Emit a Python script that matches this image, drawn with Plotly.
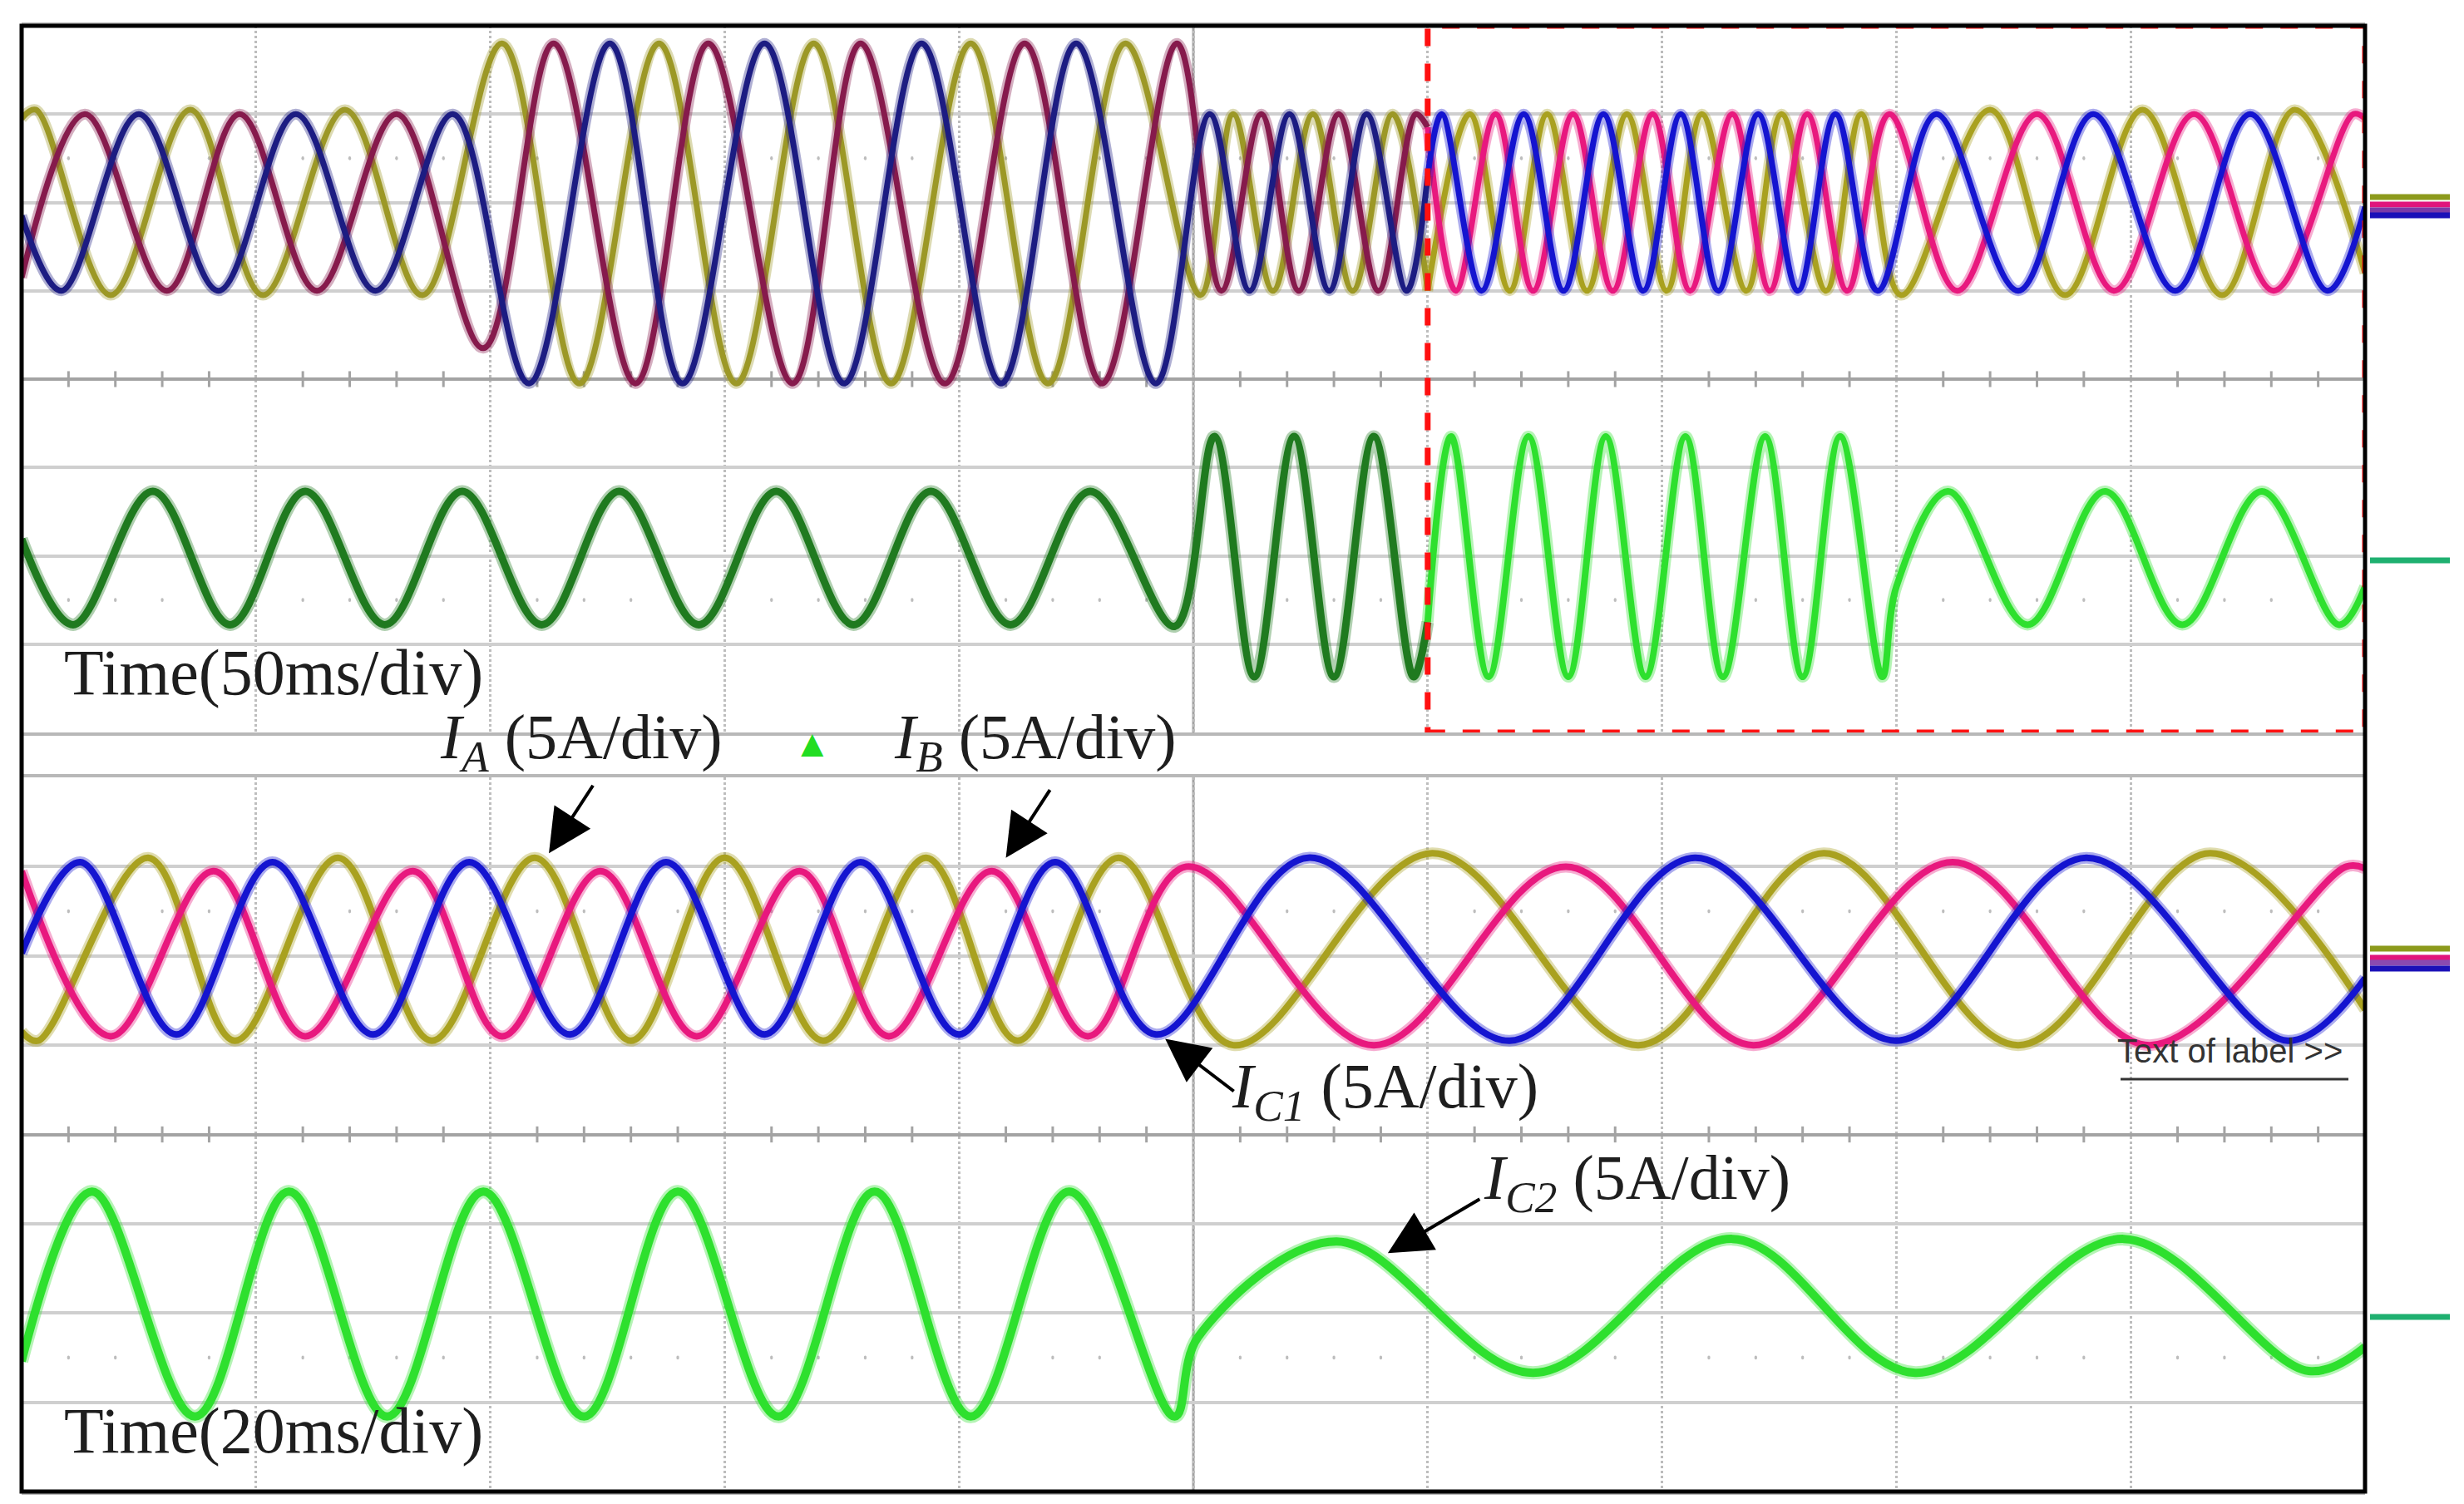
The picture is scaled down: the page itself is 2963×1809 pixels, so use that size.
import plotly.graph_objects as go

# ---- upper record, Time 50 ms/div (x and y in divisions) ----
UP_OLIVE_T = [0.0, 0.06, 0.38, 0.72, 1.03, 1.38, 1.71, 2.05, 2.38, 2.72, 3.05, 3.38, 3.71, 4.05,
              4.38, 4.71, 5.03, 5.17, 5.34, 5.51, 5.68, 5.85, 6.0, 6.18, 6.35, 6.51, 6.68, 6.85,
              7.02, 7.17, 7.36, 7.51, 7.70, 7.85, 8.02, 8.40, 8.72, 9.05, 9.39, 9.70, 10.0]
UP_OLIVE_V = [2.95, 3.05, 0.95, 3.05, 0.95, 3.05, 0.95, 3.8, -0.05, 3.8, -0.05, 3.8, -0.05, 3.8,
              -0.05, 3.8, 0.95, 3.0, 1.0, 3.0, 1.0, 3.0, 1.0, 3.0, 1.0, 3.0, 1.0, 3.0,
              1.0, 3.0, 1.0, 3.0, 1.0, 3.0, 0.95, 3.05, 0.95, 3.05, 0.95, 3.05, 1.2]

UP_MAROON_T = [0.0, 0.27, 0.62, 0.93, 1.26, 1.60, 1.97, 2.27, 2.62, 2.93, 3.29, 3.58, 3.94, 4.28,
               4.61, 4.93, 5.12, 5.29, 5.45, 5.62, 5.79, 5.95, 6.0, 6.12, 6.29, 6.45, 6.62, 6.79,
               6.96, 7.12, 7.30, 7.46, 7.62, 7.79, 7.97, 8.26, 8.60, 8.93, 9.27, 9.61, 9.95, 10.0]
UP_MAROON_V = [1.15, 3.0, 1.0, 3.0, 1.0, 3.0, 0.35, 3.8, -0.05, 3.8, -0.05, 3.8, -0.05, 3.8,
               -0.05, 3.8, 1.0, 3.0, 1.0, 3.0, 1.0, 3.0, 2.85, 1.0, 3.0, 1.0, 3.0, 1.0,
               3.0, 1.0, 3.0, 1.0, 3.0, 1.0, 3.0, 1.0, 3.0, 1.0, 3.0, 1.0, 3.0, 2.95]

UP_NAVY_T = [0.0, 0.17, 0.50, 0.84, 1.17, 1.51, 1.84, 2.165, 2.51, 2.82, 3.17, 3.51, 3.84, 4.18,
             4.50, 4.84, 5.07, 5.24, 5.41, 5.58, 5.74, 5.91, 6.0, 6.06, 6.23, 6.41, 6.58, 6.75,
             6.92, 7.08, 7.24, 7.41, 7.58, 7.74, 7.92, 8.17, 8.52, 8.84, 9.19, 9.51, 9.84, 10.0]
UP_NAVY_V = [1.85, 1.0, 3.0, 1.0, 3.0, 1.0, 3.0, -0.05, 3.8, -0.05, 3.8, -0.05, 3.8, -0.05,
             3.8, -0.05, 3.0, 1.0, 3.0, 1.0, 3.0, 1.0, 2.3, 3.0, 1.0, 3.0, 1.0, 3.0,
             1.0, 3.0, 1.0, 3.0, 1.0, 3.0, 1.0, 3.0, 1.0, 3.0, 1.0, 3.0, 1.0, 1.95]

UP_GREEN_T = [0.0, 0.22, 0.56, 0.89, 1.21, 1.55, 1.88, 2.22, 2.55, 2.89, 3.22, 3.55, 3.88, 4.22,
              4.56, 4.92, 5.09, 5.26, 5.43, 5.60, 5.77, 5.94, 6.0, 6.10, 6.26, 6.43, 6.60, 6.76,
              6.93, 7.10, 7.26, 7.44, 7.60, 7.76, 7.94, 8.0, 8.22, 8.56, 8.89, 9.22, 9.56, 9.89, 10.0]
UP_GREEN_V = [-1.81, -2.78, -1.27, -2.78, -1.27, -2.78, -1.27, -2.78, -1.27, -2.78, -1.27, -2.78,
              -1.27, -2.78, -1.27, -2.8, -0.65, -3.37, -0.65, -3.37, -0.65, -3.37, -2.75, -0.65,
              -3.37, -0.65, -3.37, -0.65, -3.37, -0.65, -3.37, -0.65, -3.37, -0.65, -3.37, -2.35,
              -1.27, -2.78, -1.27, -2.78, -1.27, -2.78, -2.35]

# ---- lower record, Time 20 ms/div ----
LO_BLUE_T = [0.0, 0.25, 0.66, 1.07, 1.50, 1.91, 2.34, 2.75, 3.17, 3.58, 4.00, 4.41, 4.84, 5.49,
             6.35, 7.14, 8.00, 8.81, 9.67, 10.0]
LO_BLUE_V = [2.03, 3.05, 1.12, 3.05, 1.12, 3.05, 1.12, 3.05, 1.12, 3.05, 1.12, 3.05, 1.12, 3.1,
             1.05, 3.1, 1.05, 3.1, 1.05, 1.75]

LO_PINK_T = [0.0, 0.38, 0.82, 1.21, 1.67, 2.05, 2.47, 2.88, 3.32, 3.70, 4.14, 4.55, 4.97, 5.77,
             6.59, 7.39, 8.24, 9.08, 9.92, 10.0]
LO_PINK_V = [2.95, 1.1, 2.95, 1.1, 2.95, 1.1, 2.95, 1.1, 2.95, 1.1, 2.95, 1.1, 3.0, 1.0,
             3.0, 1.0, 3.05, 1.0, 3.0, 2.98]

LO_OLIVE_T = [0.0, 0.07, 0.54, 0.91, 1.35, 1.75, 2.19, 2.60, 3.00, 3.42, 3.86, 4.25, 4.68, 5.17,
              6.02, 6.90, 7.69, 8.52, 9.34, 10.0]
LO_OLIVE_V = [1.15, 1.05, 3.1, 1.05, 3.1, 1.05, 3.1, 1.05, 3.1, 1.05, 3.1, 1.05, 3.1, 1.0,
              3.15, 1.0, 3.15, 1.0, 3.15, 1.4]

LO_GREEN_T = [0.0, 0.30, 0.74, 1.14, 1.56, 1.97, 2.40, 2.80, 3.23, 3.64, 4.05, 4.47, 4.92, 5.02,
              5.61, 6.45, 7.30, 8.08, 8.97, 9.76, 10.0]
LO_GREEN_V = [-2.54, -0.64, -3.16, -0.64, -3.16, -0.64, -3.16, -0.64, -3.16, -0.64, -3.16, -0.64,
              -3.16, -2.27, -1.2, -2.67, -1.17, -2.67, -1.17, -2.65, -2.38]

ZOOM_START = 6.0  # red dashed window starts here (upper record)

# colours
OLIVE_DARK = "#9c9826"
MAROON = "#861a4c"
NAVY = "#1c1c82"
GREEN_DARK = "#1f7a1f"
OLIVE = "#a9a11f"
PINK = "#e8187e"
BLUE = "#1414d0"
GREEN = "#2ee02e"
GRID_H = "#cfcfcf"
GRID_V = "#bdbdbd"
AXIS_C = "#a3a3a3"

W, H = 2963, 1809
M_L, M_R, M_T, M_B = 18, 127, 23, 23
PLOT_W = W - M_L - M_R
PLOT_H = H - M_T - M_B


def py(px_y):
    """pixel row -> paper y"""
    return (H - M_B - px_y) / PLOT_H


def px(px_x):
    return (px_x - M_L) / PLOT_W


UP_DOMAIN = [py(873), 1.0]
LO_DOMAIN = [0.0, py(927)]

fig = go.Figure()


def add_wave(t, v, color, xa, ya, width=8):
    # soft halo under the trace to mimic the noisy scope band
    fig.add_trace(go.Scatter(
        x=t, y=v, mode="lines", xaxis=xa, yaxis=ya, opacity=0.35,
        line=dict(color=color, width=width + 6, shape="spline", smoothing=1.0),
        hoverinfo="skip", showlegend=False,
    ))
    fig.add_trace(go.Scatter(
        x=t, y=v, mode="lines", xaxis=xa, yaxis=ya,
        line=dict(color=color, width=width, shape="spline", smoothing=1.0),
        hoverinfo="skip", showlegend=False,
    ))


def split(t, v, t0):
    i = t.index(t0)
    return (t[:i + 1], v[:i + 1]), (t[i:], v[i:])


# upper record: darker colours before the dashed window, brighter inside it
for t, v, c1, c2 in [
    (UP_OLIVE_T, UP_OLIVE_V, OLIVE_DARK, OLIVE),
    (UP_MAROON_T, UP_MAROON_V, MAROON, PINK),
    (UP_NAVY_T, UP_NAVY_V, NAVY, BLUE),
]:
    a, b = split(t, v, ZOOM_START)
    add_wave(a[0], a[1], c1, "x", "y", width=7)
    add_wave(b[0], b[1], c2, "x", "y", width=7)

a, b = split(UP_GREEN_T, UP_GREEN_V, ZOOM_START)
add_wave(a[0], a[1], GREEN_DARK, "x", "y", width=9)
add_wave(b[0], b[1], GREEN, "x", "y", width=8)

# lower record
add_wave(LO_OLIVE_T, LO_OLIVE_V, OLIVE, "x2", "y2")
add_wave(LO_PINK_T, LO_PINK_V, PINK, "x2", "y2")
add_wave(LO_BLUE_T, LO_BLUE_V, BLUE, "x2", "y2")
add_wave(LO_GREEN_T, LO_GREEN_V, GREEN, "x2", "y2", width=10)

xaxis_style = dict(
    range=[0, 10], dtick=1, tick0=0, showgrid=True, gridcolor=GRID_V, gridwidth=3,
    griddash="dot", zeroline=False, showticklabels=False, ticks="",
    showline=True, mirror=True, linecolor="#b8b8b8", linewidth=4, fixedrange=True,
)
yaxis_style = dict(
    range=[-4, 4], dtick=1, tick0=0, showgrid=True, gridcolor=GRID_H, gridwidth=4,
    zeroline=True, zerolinecolor=AXIS_C, zerolinewidth=4, showticklabels=False, ticks="",
    showline=False, fixedrange=True,
)

shapes = []
for xa, ya in [("x", "y"), ("x2", "y2")]:
    # centre vertical line
    shapes.append(dict(type="line", xref=xa, yref=ya, x0=5, x1=5, y0=-4, y1=4,
                       line=dict(color=AXIS_C, width=3), layer="below"))
    for k in range(1, 50):
        if k % 5 == 0:
            continue
        xk = k * 0.2
        # minor ticks on the centre horizontal axis
        shapes.append(dict(type="line", xref=xa, yref=ya, x0=xk, x1=xk, y0=-0.09, y1=0.09,
                           line=dict(color=AXIS_C, width=3), layer="below"))
        # dotted rows at +/-2.5 div
        for yk in (2.5, -2.5):
            shapes.append(dict(type="circle", xref=xa, yref=ya,
                               x0=xk - 0.006, x1=xk + 0.006, y0=yk - 0.022, y1=yk + 0.022,
                               fillcolor="#bdbdbd", line=dict(width=0), layer="below"))

# red dashed zoom window on the upper record
shapes.append(dict(type="rect", xref="x", yref="y", x0=ZOOM_START, x1=10, y0=-4, y1=4,
                   line=dict(color="#ff1010", width=7, dash="dash"), layer="above"))

# outer black frame
shapes.append(dict(type="rect", xref="paper", yref="paper", x0=0, x1=1, y0=0, y1=1,
                   line=dict(color="black", width=5), layer="above"))

# ground-level markers on the right side
mx0, mx1 = px(2842), px(2938)
for row, col in [(229, "#8c9a1c"), (238, "#e0157c"), (245, "#7b3aa8"), (251, "#1a10b8"),
                 (666, "#1fb070"),
                 (1133, "#8c9a1c"), (1144, "#e0157c"), (1150, "#8a4ab0"), (1157, "#1a10b8"),
                 (1576, "#1fb070")]:
    shapes.append(dict(type="line", xref="paper", yref="paper", x0=mx0, x1=mx1,
                       y0=py(row), y1=py(row), line=dict(color=col, width=7), layer="above"))

# underline of the small label
shapes.append(dict(type="line", xref="paper", yref="paper", x0=px(2542), x1=px(2816),
                   y0=py(1290), y1=py(1290), line=dict(color="#333333", width=3)))

SERIF = "Liberation Serif, Times New Roman, serif"
TXT = "#1e1e1e"
annotations = [
    dict(text="Time(50ms/div)", x=px(68), y=py(800), xanchor="left", yanchor="middle"),
    dict(text="Time(20ms/div)", x=px(68), y=py(1712), xanchor="left", yanchor="middle"),
]
for a in annotations:
    a.update(xref="paper", yref="paper", showarrow=False, borderpad=0,
             font=dict(family=SERIF, size=78, color=TXT))

labels = [
    ("<i>I</i><sub><i>A</i></sub> (5A/div)", 520, 884),
    ("<i>I</i><sub><i>B</i></sub> (5A/div)", 1066, 884),
    ("<i>I</i><sub><i>C1</i></sub> (5A/div)", 1472, 1304),
    ("<i>I</i><sub><i>C2</i></sub> (5A/div)", 1775, 1414),
]
for text, lx, ly in labels:
    annotations.append(dict(text=text, xref="paper", yref="paper", x=px(lx), y=py(ly),
                            xanchor="left", yanchor="middle", showarrow=False, borderpad=0,
                            font=dict(family=SERIF, size=76, color=TXT)))

annotations.append(dict(text="\u25b2", xref="paper", yref="paper", x=px(969), y=py(884),
                        xanchor="center", yanchor="middle", showarrow=False,
                        font=dict(size=46, color="#22dd22")))
annotations.append(dict(text="Text of label >>", xref="paper", yref="paper", x=px(2536), y=py(1256),
                        xanchor="left", yanchor="middle", showarrow=False,
                        font=dict(family="Liberation Sans, Arial", size=40, color="#333333")))

# arrows pointing at the lower-record traces (tip in data units, tail offset in px)
for tx, ty, ax, ay in [(2.25, 3.15, 54, -83), (4.2, 3.1, 54, -83),
                       (4.88, 1.07, 84, 64), (5.83, -1.33, 112, -66)]:
    annotations.append(dict(text="", xref="x2", yref="y2", x=tx, y=ty, ax=ax, ay=ay,
                            showarrow=True, arrowhead=2, arrowsize=2.6, arrowwidth=4,
                            arrowcolor="black"))

fig.update_layout(
    width=W, height=H, autosize=False,
    margin=dict(l=M_L, r=M_R, t=M_T, b=M_B),
    paper_bgcolor="white", plot_bgcolor="white",
    showlegend=False,
    xaxis=dict(xaxis_style, anchor="y"),
    yaxis=dict(yaxis_style, domain=UP_DOMAIN, anchor="x"),
    xaxis2=dict(xaxis_style, anchor="y2"),
    yaxis2=dict(yaxis_style, domain=LO_DOMAIN, anchor="x2"),
    shapes=shapes,
    annotations=annotations,
)

fig.write_html("out.html")
